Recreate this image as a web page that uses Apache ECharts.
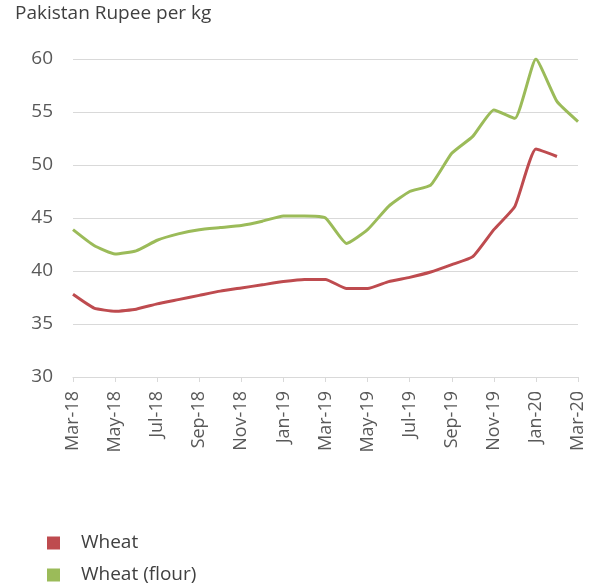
<!DOCTYPE html>
<html>
<head>
<meta charset="utf-8">
<script src="https://cdn.jsdelivr.net/npm/echarts@6/dist/echarts.min.js"></script>
<style>
html,body{margin:0;padding:0;background:#fff;}
#c{width:596px;height:587px;}
</style>
</head>
<body>
<div id="c"></div>
<script>
var categories = ['Mar-18','Apr-18','May-18','Jun-18','Jul-18','Aug-18','Sep-18','Oct-18','Nov-18','Dec-18','Jan-19','Feb-19','Mar-19','Apr-19','May-19','Jun-19','Jul-19','Aug-19','Sep-19','Oct-19','Nov-19','Dec-19','Jan-20','Feb-20','Mar-20'];
var wheat = [37.8,36.5,36.2,36.4,36.9,37.3,37.7,38.1,38.4,38.7,39.0,39.2,39.2,38.35,38.35,39.0,39.4,39.9,40.6,41.35,43.9,46.1,51.5,50.8,null];
var wheatFlour = [43.9,42.4,41.6,41.9,42.9,43.5,43.9,44.1,44.3,44.7,45.2,45.2,45.0,42.6,43.9,46.1,47.5,48.1,51.1,52.7,55.2,54.4,60.0,56.0,54.1];
var seriesNames = ['Wheat','Wheat (flour)'];
var yTicks = {min:30, max:60, step:5};

var chart = echarts.init(document.getElementById('c'));
var font = '"Open Sans", "Noto Sans", sans-serif';
chart.setOption({
  animation:false,
  backgroundColor:'#fff',
  title:{text:'Pakistan Rupee per kg', left:15, top:4, padding:0,
    textStyle:{fontFamily:font, fontSize:19, fontWeight:'normal', color:'#404040'}},
  grid:{left:73, right:18, top:59, bottom:210},
  legend:{orient:'vertical', left:47, top:532, padding:0, itemWidth:13, itemHeight:13, itemGap:10, icon:'rect',
    height:60,
    textStyle:{fontFamily:font, fontSize:19, lineHeight:22, color:'#404040', padding:[0,0,0,16]},
    data:seriesNames},
  xAxis:{type:'category', data:categories, boundaryGap:false,
    axisLine:{lineStyle:{color:'#d9d9d9'}},
    axisTick:{interval:1, length:5, lineStyle:{color:'#d9d9d9'}},
    axisLabel:{interval:1, rotate:90, margin:14, fontFamily:font, fontSize:18, color:'#595959'}},
  yAxis:{type:'value', min:yTicks.min, max:yTicks.max, interval:yTicks.step,
    axisLine:{show:false}, axisTick:{show:false},
    splitLine:{lineStyle:{color:'#d9d9d9', width:1}},
    axisLabel:{margin:20, fontFamily:font, fontSize:19, color:'#595959'}},
  series:[
    {name:seriesNames[0], type:'line', data:wheat, showSymbol:false, smooth:0.15,
      lineStyle:{color:'#be4b4f', width:3}, itemStyle:{color:'#be4b4f'}},
    {name:seriesNames[1], type:'line', data:wheatFlour, showSymbol:false, smooth:0.15,
      lineStyle:{color:'#9bbb59', width:3}, itemStyle:{color:'#9bbb59'}}
  ]
});
</script>
</body>
</html>
